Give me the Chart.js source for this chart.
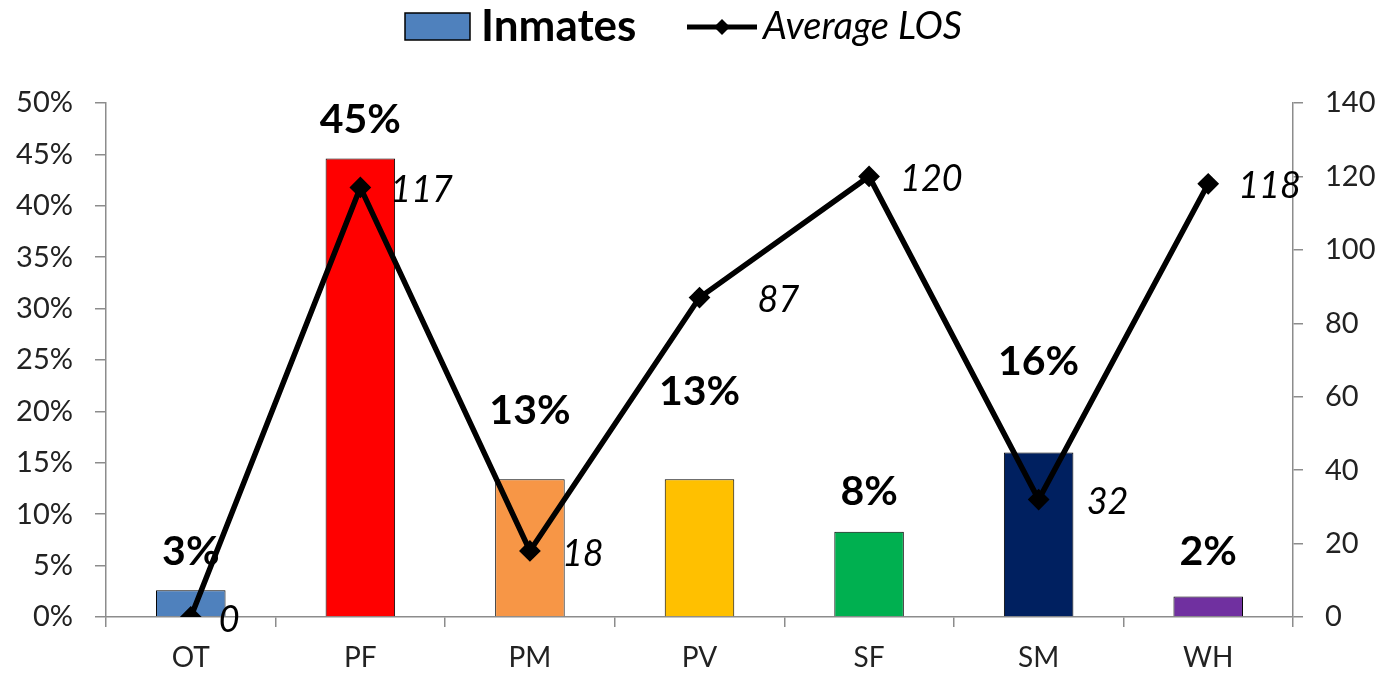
<!DOCTYPE html>
<html>
<head>
<meta charset="utf-8">
<title>Inmates and Average LOS</title>
<script src="https://cdn.jsdelivr.net/npm/chart.js@4"></script>
<style>
  html, body { margin: 0; padding: 0; background: #fff; }
  #wrap { width: 1380px; height: 675px; position: relative; }
</style>
</head>
<body>
<div id="wrap"><canvas id="grafico"></canvas></div>
<script>
// categorias y series
const categorias = ['OT', 'PF', 'PM', 'PV', 'SF', 'SM', 'WH'];
const inmates = [0.026, 0.446, 0.134, 0.134, 0.083, 0.16, 0.02];
const averageLos = [0, 117, 18, 87, 120, 32, 118];
const coloresBarras = ['#4F81BD', '#FF0000', '#F79646', '#FFC000', '#00B050', '#002060', '#7030A0'];

// subida de cada etiqueta de porcentaje sobre su barra (px, hasta la linea base)
const subidaEtiqueta = [25, 26, 55, 74, 27, 78, 31];
// desplazamiento horizontal de las etiquetas de la linea (px)
const desplEtiquetaLos = [28, 30, 32, 58, 31, 48, 30];

const FUENTE = 'Lato, "Open Sans", sans-serif';
const GRIS = '#8c8c8c';

// etiquetas de valor: porcentaje encima de cada barra y LOS a la derecha de cada punto
const etiquetasPlugin = {
    id: 'etiquetas',
    afterDatasetsDraw(chart) {
        const ctx = chart.ctx;
        ctx.save();
        const barras = chart.getDatasetMeta(0);
        ctx.fillStyle = '#000';
        ctx.font = 'bold 41px ' + FUENTE;
        ctx.textAlign = 'center';
        ctx.textBaseline = 'alphabetic';
        barras.data.forEach((bar, i) => {
            const txt = Math.round(inmates[i] * 100) + '%';
            ctx.fillText(txt, bar.x, bar.y - subidaEtiqueta[i]);
        });
        const linea = chart.getDatasetMeta(1);
        ctx.font = 'italic 36px ' + FUENTE;
        ctx.textAlign = 'left';
        ctx.textBaseline = 'middle';
        linea.data.forEach((pt, i) => {
            ctx.fillText(String(averageLos[i]), pt.x + desplEtiquetaLos[i], pt.y + 3);
        });
        ctx.restore();
    }
};

// leyenda superior: recuadro azul + "Inmates", linea con rombo + "Average LOS"
const leyendaPlugin = {
    id: 'leyenda',
    afterDraw(chart) {
        const ctx = chart.ctx;
        ctx.save();
        ctx.fillStyle = coloresBarras[0];
        ctx.fillRect(405, 13, 65, 27);
        ctx.strokeStyle = '#000';
        ctx.lineWidth = 1.5;
        ctx.strokeRect(405, 13, 65, 27);
        ctx.fillStyle = '#000';
        ctx.font = 'bold 44px ' + FUENTE;
        ctx.textBaseline = 'alphabetic';
        ctx.textAlign = 'left';
        ctx.fillText('Inmates', 481, 41);

        ctx.beginPath();
        ctx.moveTo(687, 27);
        ctx.lineTo(757, 27);
        ctx.lineWidth = 5;
        ctx.stroke();
        ctx.beginPath();
        ctx.moveTo(722, 19);
        ctx.lineTo(730, 27);
        ctx.lineTo(722, 35);
        ctx.lineTo(714, 27);
        ctx.closePath();
        ctx.fill();

        ctx.font = 'italic 38px ' + FUENTE;
        ctx.fillText('Average LOS', 763, 39);
        ctx.restore();
    }
};

const ctx = document.getElementById('grafico').getContext('2d');
const chart = new Chart(ctx, {
    data: {
        labels: categorias,
        datasets: [
            {
                type: 'bar',
                label: 'Inmates',
                data: inmates,
                backgroundColor: coloresBarras,
                borderColor: '#000',
                borderWidth: 1,
                categoryPercentage: 1,
                barPercentage: 0.41,
                yAxisID: 'y',
                order: 1
            },
            {
                type: 'line',
                label: 'Average LOS',
                data: averageLos,
                borderColor: '#000',
                borderWidth: 5.5,
                backgroundColor: '#000',
                pointStyle: 'rectRot',
                pointRadius: 7,
                pointBackgroundColor: '#000',
                pointBorderColor: '#000',
                tension: 0,
                yAxisID: 'y2',
                order: 0
            }
        ]
    },
    options: {
        responsive: true,
        maintainAspectRatio: false,
        animation: false,
        layout: { padding: { top: 103, left: 0, right: 0, bottom: 0 } },
        plugins: {
            legend: { display: false },
            tooltip: { enabled: false }
        },
        scales: {
            x: {
                offset: true,
                grid: {
                    offset: true,
                    drawOnChartArea: false,
                    drawTicks: true,
                    tickLength: 10,
                    color: GRIS,
                    lineWidth: 1.5
                },
                border: { color: GRIS, width: 1.5 },
                ticks: { color: '#222', font: { family: FUENTE, size: 28 }, padding: 14 },
                afterFit(scale) { scale.height = 58; }
            },
            y: {
                position: 'left',
                min: 0,
                max: 0.5,
                ticks: {
                    stepSize: 0.05,
                    color: '#222',
                    font: { family: FUENTE, size: 29 },
                    padding: 22,
                    callback: v => Math.round(v * 100) + '%'
                },
                grid: {
                    drawOnChartArea: false,
                    drawTicks: true,
                    tickLength: 11,
                    color: GRIS,
                    lineWidth: 1.5
                },
                border: { color: GRIS, width: 1.5 },
                afterFit(scale) { scale.width = 106; }
            },
            y2: {
                position: 'right',
                min: 0,
                max: 140,
                ticks: {
                    stepSize: 20,
                    color: '#222',
                    font: { family: FUENTE, size: 29 },
                    padding: 22
                },
                grid: {
                    drawOnChartArea: false,
                    drawTicks: true,
                    tickLength: 10,
                    color: GRIS,
                    lineWidth: 1.5
                },
                border: { color: GRIS, width: 1.5 },
                afterFit(scale) { scale.width = 87; }
            }
        }
    },
    plugins: [etiquetasPlugin, leyendaPlugin]
});
</script>
</body>
</html>
